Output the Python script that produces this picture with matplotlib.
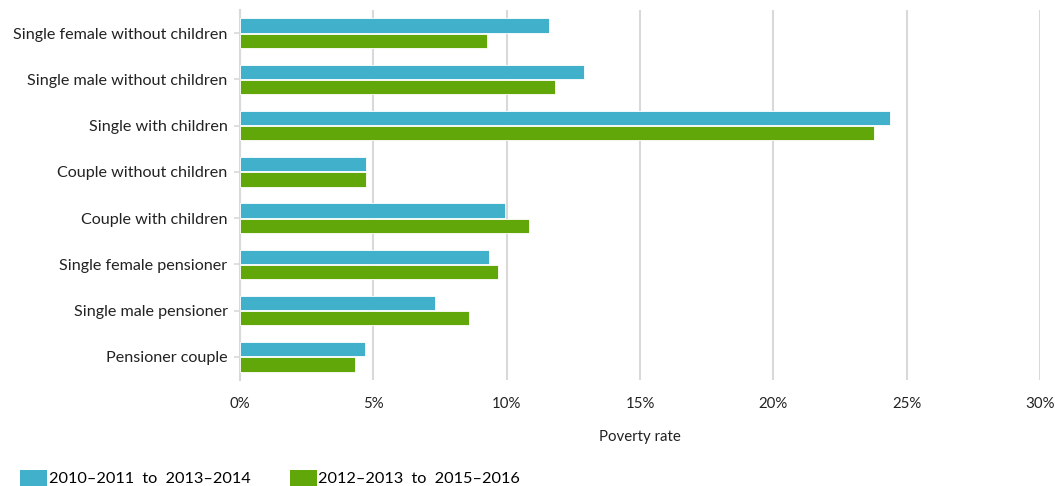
import matplotlib
matplotlib.use("Agg")
import matplotlib.pyplot as plt
import numpy as np
from matplotlib.patches import Patch

categories = ["Single female without children", "Single male without children",
              "Single with children", "Couple without children", "Couple with children",
              "Single female pensioner", "Single male pensioner", "Pensioner couple"]
series_names = ["2010\u20132011  to  2013\u20132014", "2012\u20132013  to  2015\u20132016"]
series_a = [11.6, 12.9, 24.38, 4.72, 9.94, 9.33, 7.31, 4.67]
series_b = [9.26, 11.81, 23.77, 4.72, 10.83, 9.69, 8.6, 4.31]
xticks = [0, 5, 10, 15, 20, 25, 30]
xticklabels = ["0%", "5%", "10%", "15%", "20%", "25%", "30%"]
colors = ["#41B0CB", "#62A70A"]

plt.rcParams['font.family'] = ['Lato', 'DejaVu Sans']

fig = plt.figure(figsize=(10.55, 4.86), dpi=100)
ax = fig.add_axes([240/1055, 1-380/486, 800/1055, 370/486])

y = np.arange(len(categories))
h = 0.31
ax.barh(y - h/2 - 0.01, series_a, height=h, color=colors[0], edgecolor="white", linewidth=0.6, zorder=3)
ax.barh(y + h/2 + 0.01, series_b, height=h, color=colors[1], edgecolor="white", linewidth=0.6, zorder=3)

ax.set_ylim(len(categories) - 0.5, -0.5)
ax.set_xlim(0, 30)
ax.set_yticks(y)
ax.set_yticklabels(categories, fontsize=11.6, color="#222222")
ax.set_xticks(xticks)
ax.set_xticklabels(xticklabels, fontsize=10.8, color="#222222")
ax.xaxis.grid(True, color="#d9d9d9", linewidth=1.5, zorder=0)
ax.set_axisbelow(True)
for s in ["top", "right", "bottom"]:
    ax.spines[s].set_visible(False)
ax.spines["left"].set_color("#d9d9d9")
ax.spines["left"].set_linewidth(1.5)
ax.tick_params(axis="y", length=4, color="#d9d9d9", width=1.2, pad=5)
ax.tick_params(axis="x", length=0, pad=12)
ax.set_xlabel("Poverty rate", fontsize=10.8, color="#222222", labelpad=14)

handles = [Patch(facecolor=c) for c in colors]
fig.legend(handles, series_names, loc="lower left", bbox_to_anchor=(0.013, -0.014),
           ncol=2, frameon=False, fontsize=11.7, handlelength=1.65, handleheight=1.1,
           handletextpad=0.12, columnspacing=2.4, borderaxespad=0)

fig.savefig("out.png", dpi=100)
